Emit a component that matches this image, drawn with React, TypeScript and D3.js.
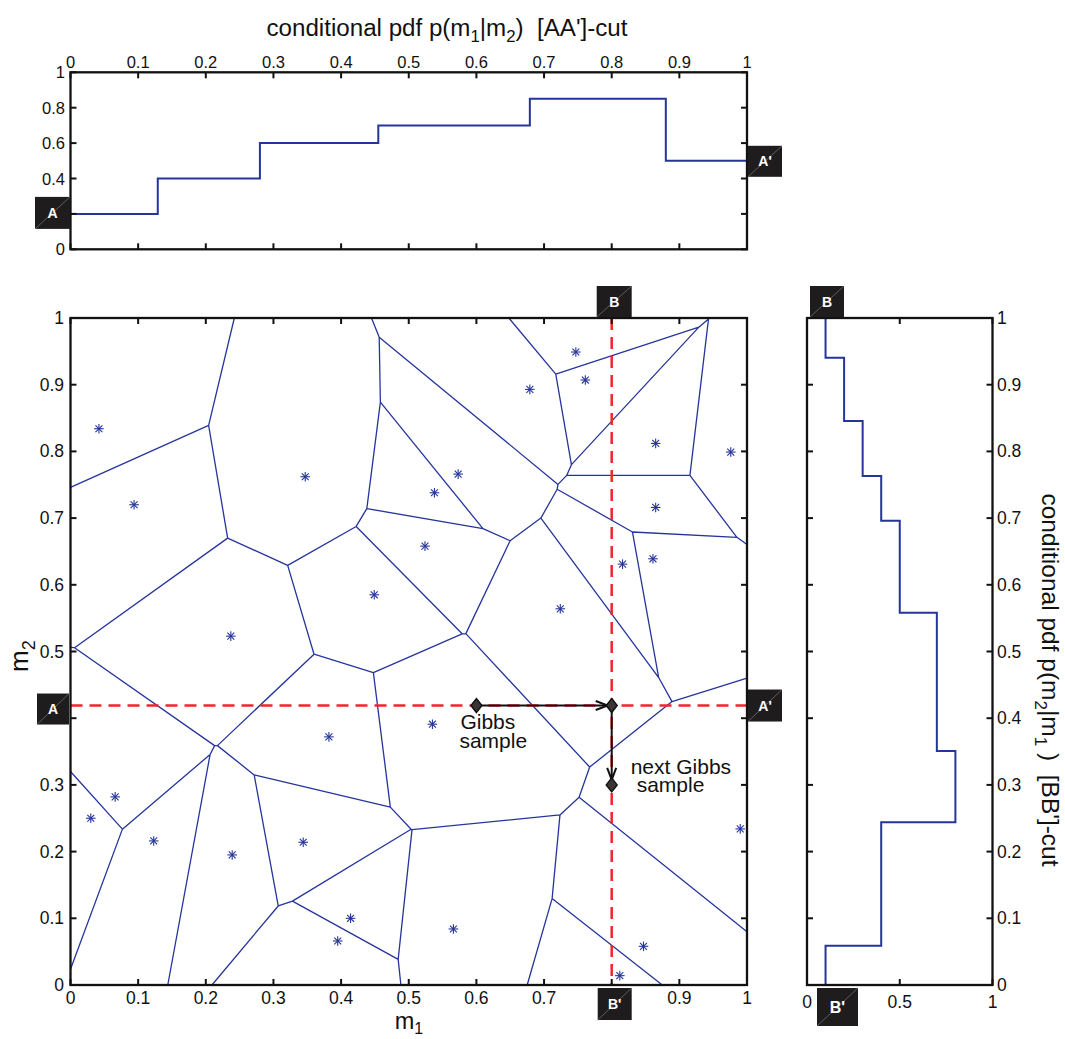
import React from 'react';
import * as d3 from 'd3';

// ---------- data ----------
// Voronoi generators (sample points) in model space (m1, m2)
const seedM1 = [0.042, 0.094, 0.347, 0.237, 0.449, 0.524, 0.538, 0.573, 0.679, 0.747, 0.761, 0.865, 0.865, 0.976, 0.724, 0.816, 0.861, 0.535, 0.382, 0.066, 0.030, 0.123, 0.239, 0.344, 0.414, 0.395, 0.566, 0.847, 0.812, 0.990];
const seedM2 = [0.834, 0.720, 0.762, 0.523, 0.585, 0.658, 0.738, 0.766, 0.893, 0.949, 0.907, 0.812, 0.716, 0.799, 0.564, 0.631, 0.639, 0.391, 0.372, 0.282, 0.250, 0.216, 0.195, 0.214, 0.100, 0.066, 0.084, 0.058, 0.014, 0.234];

// conditional pdf along AA' cut (step starts in m1, and values)
const topBreaks = [0, 0.129, 0.280, 0.455, 0.679, 0.880];
const topValues = [0.2, 0.4, 0.6, 0.7, 0.85, 0.5];

// conditional pdf along BB' cut (upper m2 edge of each step, and values)
const rightBreaks = [1, 0.9405, 0.8456, 0.7631, 0.696, 0.558, 0.351, 0.244, 0.059];
const rightValues = [0.1, 0.2, 0.3, 0.4, 0.5, 0.7, 0.8, 0.4, 0.1];

const cutM2 = 0.419;
const cutM1 = 0.8;
const gibbsStart = [0.6, 0.419];
const gibbsNext = [0.8, 0.3];

const tenthTicks = d3.range(0, 11).map((i) => i / 10);
const fifthTicks = d3.range(0, 6).map((i) => i / 5);
const halfTicks = [0, 0.5, 1];

// tick labels hidden behind the cut markers in the original
const topYLabels = [0, 0.4, 0.6, 0.8, 1];
const mainXLabels = [0, 0.1, 0.2, 0.3, 0.4, 0.5, 0.6, 0.7, 0.9, 1];
const mainYLabels = [0, 0.1, 0.2, 0.3, 0.5, 0.6, 0.7, 0.8, 0.9, 1];

// ---------- style ----------
const FONT = "'Liberation Sans', Arial, Helvetica, sans-serif";
const BLUE = '#26359a';
const RED = '#f0262c';
const TOP_FS = 16.5;
const TICK_FS = 17.5;

const fmt = (v: number) => String(+v.toFixed(1));

// ---------- scales ----------
const xM = d3.scaleLinear().domain([0, 1]).range([70.5, 747]);
const yM = d3.scaleLinear().domain([0, 1]).range([985, 318]);
const xT = xM;
const yT = d3.scaleLinear().domain([0, 1]).range([249.3, 72.3]);
const xR = d3.scaleLinear().domain([0, 1]).range([807, 992.5]);
const yR = yM;

function Box({ x, y, w, h, label, fs = 14 }: any) {
  return (
    <g>
      <rect x={x} y={y} width={w} height={h} fill="#1f1c1d" />
      <line x1={x} y1={y + h} x2={x + w} y2={y} stroke="#8a8a8a" strokeWidth={0.6} />
      <text x={x + w / 2} y={y + h / 2 + fs * 0.36} fill="#fff" fontSize={fs} fontWeight="bold" textAnchor="middle" fontFamily={FONT}>{label}</text>
    </g>
  );
}

function Frame({ xs, ys, xticks, yticks }: any) {
  const [x0, x1] = xs.range();
  const [y0, y1] = ys.range(); // y0 bottom, y1 top
  const L = 6;
  return (
    <g stroke="#111" strokeWidth={2}>
      {xticks.map((t: number, i: number) => (
        <g key={'x' + i}>
          <line x1={xs(t)} x2={xs(t)} y1={y0} y2={y0 - L} />
          <line x1={xs(t)} x2={xs(t)} y1={y1} y2={y1 + L} />
        </g>
      ))}
      {yticks.map((t: number, i: number) => (
        <g key={'y' + i}>
          <line x1={x0} x2={x0 + L} y1={ys(t)} y2={ys(t)} />
          <line x1={x1} x2={x1 - L} y1={ys(t)} y2={ys(t)} />
        </g>
      ))}
      <rect x={x0} y={y1} width={x1 - x0} height={y0 - y1} fill="none" strokeWidth={2.3} />
    </g>
  );
}

function Asterisk({ cx, cy }: any) {
  const r = 4.8;
  const d = r * 0.72;
  return (
    <g stroke={BLUE} strokeWidth={1.1}>
      <line x1={cx - r} x2={cx + r} y1={cy} y2={cy} />
      <line x1={cx} x2={cx} y1={cy - r} y2={cy + r} />
      <line x1={cx - d} x2={cx + d} y1={cy - d} y2={cy + d} />
      <line x1={cx - d} x2={cx + d} y1={cy + d} y2={cy - d} />
    </g>
  );
}

function Diamond({ cx, cy }: any) {
  const w = 5.5, h = 7;
  return <path d={`M${cx},${cy - h}L${cx + w},${cy}L${cx},${cy + h}L${cx - w},${cy}Z`} fill="#3a3533" stroke="#111" strokeWidth={1.4} />;
}

export default function App() {
  // Voronoi mesh computed in model space, drawn through the scales
  const seeds = seedM1.map((m1, i) => [m1, seedM2[i]] as [number, number]);
  const delaunay = d3.Delaunay.from(seeds);
  const voronoi = delaunay.voronoi([0, 0, 1, 1]);
  const vp = d3.path();
  const ctx = {
    moveTo: (a: number, b: number) => vp.moveTo(xM(a), yM(b)),
    lineTo: (a: number, b: number) => vp.lineTo(xM(a), yM(b)),
    closePath: () => vp.closePath(),
  };
  voronoi.render(ctx as any);
  const voronoiPath = vp.toString();

  // step curves
  const topPts = topBreaks.map((b, i) => [b, topValues[i]]).concat([[1, topValues[topValues.length - 1]]]);
  const topLine = d3.line().x((d: any) => xT(d[0])).y((d: any) => yT(d[1])).curve(d3.curveStepAfter)(topPts as any);

  const rightPts = rightBreaks.map((b, i) => [rightValues[i], b]).concat([[rightValues[rightValues.length - 1], 0]]);
  const rightLine = d3.line().x((d: any) => xR(d[0])).y((d: any) => yR(d[1])).curve(d3.curveStepBefore)(rightPts as any);

  // gibbs arrows
  const gx0 = xM(gibbsStart[0]), gy0 = yM(gibbsStart[1]);
  const gx1 = xM(gibbsNext[0]), gy2 = yM(gibbsNext[1]);
  const hTip = gx1 - 4;
  const vTip = gy2 - 5;

  return (
    <svg width={1065} height={1039} style={{ position: 'absolute', left: 0, top: 0, display: 'block', background: '#fff' }} fontFamily={FONT}>
      <rect x={0} y={0} width={1065} height={1039} fill="#fff" />

      {/* ===== Title top ===== */}
      <text transform="translate(447,36) scale(1.05,1)" fontSize={23} textAnchor="middle" fill="#111" style={{ whiteSpace: 'pre' }}>
        conditional pdf p(m<tspan fontSize={16} dy={6}>1</tspan><tspan dy={-6}>|m</tspan><tspan fontSize={16} dy={6}>2</tspan><tspan dy={-6}>)  [AA']-cut</tspan>
      </text>

      {/* ===== Top plot ===== */}
      <path d={topLine as string} fill="none" stroke={BLUE} strokeWidth={2} />
      <Frame xs={xT} ys={yT} xticks={tenthTicks} yticks={fifthTicks} />
      <g fontSize={TOP_FS} fill="#111">
        {tenthTicks.map((t, i) => (
          <text key={i} x={xT(t)} y={yT(1) - 4.6} textAnchor="middle">{fmt(t)}</text>
        ))}
        {topYLabels.map((t, i) => (
          <text key={i} x={65} y={yT(t) + 6} textAnchor="end">{fmt(t)}</text>
        ))}
      </g>
      <Box x={35} y={yT(0.2) - 17} w={35} h={32} label="A" />
      <Box x={748} y={yT(0.5) - 15} w={34} h={31} label="A'" />

      {/* ===== Main plot ===== */}
      <path d={voronoiPath} fill="none" stroke={BLUE} strokeWidth={1.3} />
      {seeds.map((s, i) => <Asterisk key={i} cx={xM(s[0])} cy={yM(s[1])} />)}
      <line x1={xM(0)} x2={xM(1)} y1={yM(cutM2)} y2={yM(cutM2)} stroke={RED} strokeWidth={2.5} strokeDasharray="12,7" />
      <line x1={xM(cutM1)} x2={xM(cutM1)} y1={yM(1)} y2={yM(0)} stroke={RED} strokeWidth={2.5} strokeDasharray="12,7" />

      {/* gibbs moves */}
      <g stroke="#111" strokeWidth={2} fill="none">
        <line x1={gx0} x2={hTip} y1={gy0} y2={gy0} />
        <path d={`M${hTip - 12},${gy0 - 4.5}L${hTip},${gy0}L${hTip - 12},${gy0 + 4.5}`} />
        <line x1={gx1} x2={gx1} y1={gy0} y2={vTip} />
        <path d={`M${gx1 - 4.5},${vTip - 12}L${gx1},${vTip}L${gx1 + 4.5},${vTip - 12}`} />
      </g>
      <Diamond cx={gx0} cy={gy0} />
      <Diamond cx={gx1} cy={gy0} />
      <Diamond cx={gx1} cy={gy2} />
      <g fontSize={21} fill="#111">
        <text x={gx0 - 16} y={gy0 + 23.5}>
          Gibbs<tspan x={gx0 - 17} dy={19}>sample</tspan>
        </text>
        <text x={gx1 + 19} y={gy0 + 68}>
          next Gibbs<tspan x={gx1 + 25} dy={18.5}>sample</tspan>
        </text>
      </g>

      <Frame xs={xM} ys={yM} xticks={tenthTicks} yticks={tenthTicks} />
      <g fontSize={TICK_FS} fill="#111">
        {mainXLabels.map((t, i) => (
          <text key={i} x={xM(t)} y={1004} textAnchor="middle">{fmt(t)}</text>
        ))}
        {mainYLabels.map((t, i) => (
          <text key={i} x={64} y={yM(t) + 6} textAnchor="end">{fmt(t)}</text>
        ))}
      </g>
      <text x={409} y={1029} fontSize={23.5} textAnchor="middle" fill="#111">m<tspan fontSize={16} dy={5}>1</tspan></text>
      <text transform="translate(28,672) rotate(-90)" fontSize={26} fill="#111">m<tspan fontSize={18} dy={7}>2</tspan></text>

      <Box x={37} y={yM(cutM2) - 12} w={32} h={31} label="A" />
      <Box x={748} y={yM(cutM2) - 16} w={34} h={32} label="A'" />
      <Box x={xM(cutM1) - 15} y={286} w={35} h={31} label="B" />
      <Box x={xM(cutM1) - 14} y={988} w={34} h={32} label="B'" />

      {/* ===== Right plot ===== */}
      <path d={rightLine as string} fill="none" stroke={BLUE} strokeWidth={2} />
      <Frame xs={xR} ys={yR} xticks={halfTicks} yticks={tenthTicks} />
      <g fontSize={TICK_FS} fill="#111">
        {halfTicks.map((t, i) => (
          <text key={i} x={xR(t)} y={1008} textAnchor="middle">{fmt(t)}</text>
        ))}
        {tenthTicks.map((t, i) => (
          <text key={i} x={997} y={yR(t) + 6} textAnchor="start">{fmt(t)}</text>
        ))}
      </g>
      <Box x={810} y={286} w={34} h={31} label="B" />
      <Box x={817} y={988} w={41} h={38} label="B'" fs={16} />
      <text transform="translate(1042,680) rotate(90)" fontSize={24.5} textAnchor="middle" fill="#111" style={{ whiteSpace: 'pre' }}>
        conditional pdf p(m<tspan fontSize={17} dy={7}>2</tspan><tspan dy={-7}>|m</tspan><tspan fontSize={17} dy={7}>1</tspan><tspan dy={-7}> )  [BB']-cut</tspan>
      </text>
    </svg>
  );
}
